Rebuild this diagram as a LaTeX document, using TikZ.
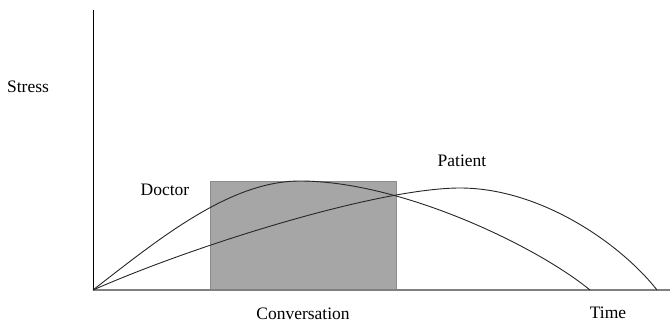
\documentclass[tikz,border=0pt]{standalone}
\usepackage{fontspec}
\setmainfont{Liberation Serif}
\newfontfamily\lblfont{Liberation Serif}
\usepackage{tikz,xcolor}
\definecolor{boxgray}{HTML}{A6A6A6}
\definecolor{boxline}{HTML}{8C8C8C}
\definecolor{axisgray}{HTML}{808080}
\tikzstyle{lbl} = [inner sep=0pt, font=\lblfont\fontsize{17.5bp}{21bp}\selectfont]
\tikzstyle{curve} = [line width=0.9bp, black!85]
\begin{document}
\begin{tikzpicture}[x=1bp, y=1bp]
\useasboundingbox (0,0) rectangle (670,323);
\coordinate (o) at (93,33);
\coordinate (ytop) at (93,313);
\coordinate (xend) at (670,33);
\coordinate (dpeak) at (300,142);
\coordinate (dend) at (590,33);
\coordinate (ppeak) at (460,135);
\coordinate (pend) at (657,33);
% conversation window
\filldraw[fill=boxgray, draw=boxline, line width=1bp] (210,34) rectangle (396,142);
% axes
\draw[black, line width=0.9bp] (o) -- (ytop);
\draw[axisgray, line width=2bp] (o) -- (xend);
% doctor
\draw[curve] (o) .. controls (160,85) and (230,142) .. (dpeak)
    .. controls (400,142) and (535,78) .. (dend);
% patient
\draw[curve] (o) .. controls (200,80) and (380,135) .. (ppeak)
    .. controls (540,135) and (620,80) .. (pend);
\node[lbl] (stress) at (28,236) {Stress};
\node[lbl] (doctor) at (165,133) {Doctor};
\node[lbl] (patient) at (462,162) {Patient};
\node[lbl] (conv) at (303,9) {Conversation};
\node[lbl] (time) at (608,10) {Time};
\end{tikzpicture}
\end{document}
